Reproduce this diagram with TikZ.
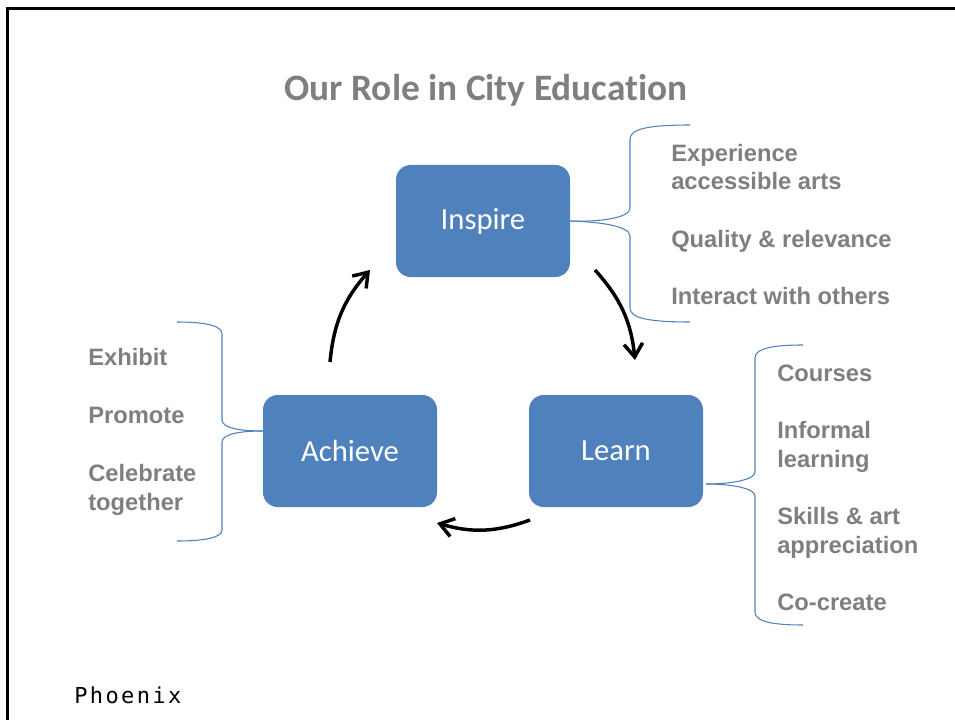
\documentclass[tikz,border=0pt]{standalone}
\usepackage{fontspec}
\usepackage{tikz}
\usetikzlibrary{arrows.meta}
\newfontfamily\boxfont[Ligatures=NoCommon]{Carlito}
\newfontfamily\listfont{Liberation Sans}
\newfontfamily\footfont[LetterSpace=11]{DejaVu Sans Mono}
\definecolor{boxblue}{HTML}{4F81BD}
\definecolor{textgray}{HTML}{7F7F7F}

\begin{document}
\begin{tikzpicture}[x=0.75pt, y=-0.75pt,
    main node/.style={rectangle, rounded corners=11pt, fill=boxblue, text=white,
      minimum width=130.5pt, minimum height=84pt, font=\boxfont\fontsize{23}{28}\selectfont},
    item/.style={anchor=base west, inner sep=0pt, align=left, text=textgray,
      font=\listfont\bfseries\fontsize{17.8}{21.6}\selectfont},
    brace/.style={draw=boxblue, line width=0.8pt},
    cycle arrow/.style={line width=2.6pt, -{Straight Barb[length=10pt, width=14pt]}}]

    \useasboundingbox (0,0) rectangle (955,720);
    \draw[line width=2pt] (7.5,720) -- (7.5,8.5) -- (955,8.5);

    \node[anchor=base, text=textgray, font=\boxfont\bfseries\fontsize{28}{34}\selectfont] (title) at (486,101) {Our Role in City Education};

    \node[main node] (inspire) at (483,221) {Inspire};
    \node[main node] (learn) at ([shift={(133,230)}]inspire) {Learn};
    \node[main node] (achieve) at ([shift={(-133,230)}]inspire) {Achieve};

    % cycle
    \coordinate (c1) at (595,270);
    \coordinate (c2) at (635,360);
    \coordinate (c3) at (530,520);
    \coordinate (c4) at (437,523);
    \coordinate (c5) at (330,362);
    \coordinate (c6) at (370,270);
    \draw[cycle arrow] (c1) to[bend left=18] (c2);
    \draw[cycle arrow] (c3) to[bend left=18] (c4);
    \draw[cycle arrow] (c5) to[bend left=18] (c6);

    % braces
    \coordinate (itip) at (inspire.east);
    \coordinate (ltip) at ([shift={(3,33)}]learn.east);
    \coordinate (atip) at ([shift={(0,-20)}]achieve.west);

    \draw[brace] (itip) .. controls (600,222) and (630,218) .. (630,208) -- (630,139)
      .. controls (630,129) and (648,125) .. (690,125);
    \draw[brace] (itip) .. controls (600,222) and (630,226) .. (630,236) -- (630,308)
      .. controls (630,318) and (648,322) .. (690,322);

    \draw[brace] (ltip) .. controls (730,484) and (755,480) .. (755,472) -- (755,358)
      .. controls (755,349) and (770,345) .. (803,345);
    \draw[brace] (ltip) .. controls (730,484) and (755,488) .. (755,496) -- (755,612)
      .. controls (755,621) and (770,625) .. (803,625);

    \draw[brace] (atip) .. controls (240,431) and (222,428) .. (222,420) -- (222,334)
      .. controls (222,326) and (207,322) .. (177,322);
    \draw[brace] (atip) .. controls (240,431) and (222,434) .. (222,442) -- (222,530)
      .. controls (222,537) and (207,541) .. (177,541);

    \node[item] (i1) at (671,190) {Experience\\accessible arts};
    \node[item] (i2) at (671,247) {Quality \& relevance};
    \node[item] (i3) at (671,304) {Interact with others};

    \node[item] (l1) at (777,381) {Courses};
    \node[item] (l2) at (777,467) {Informal\\learning};
    \node[item] (l3) at (777,553) {Skills \& art\\appreciation};
    \node[item] (l4) at (777,610) {Co-create};

    \node[item] (a1) at (88,365) {Exhibit};
    \node[item] (a2) at (88,423) {Promote};
    \node[item] (a3) at (88,510) {Celebrate\\together};

    \node[anchor=base west, inner sep=0pt, font=\footfont\fontsize{16.5}{20}\selectfont] (foot) at (74,703) {Phoenix};
\end{tikzpicture}
\end{document}
